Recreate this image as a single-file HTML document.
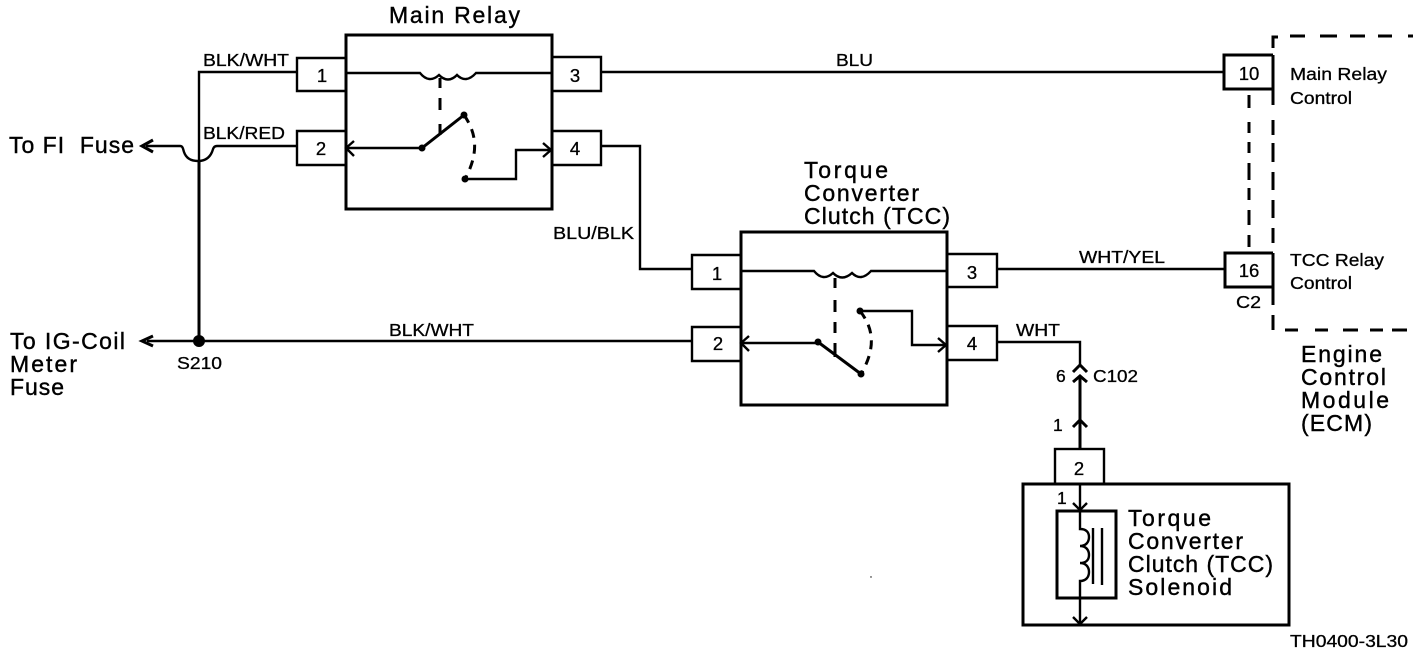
<!DOCTYPE html>
<html><head><meta charset="utf-8"><style>
html,body{margin:0;padding:0;background:#fff;width:1424px;height:654px;overflow:hidden}
svg{display:block}
text{font-family:"Liberation Sans",sans-serif;fill:#000;stroke:#000;stroke-width:.3}
.l{font-size:23px;stroke-width:.4}
.s{font-size:17.5px}
.n{font-size:18.5px;text-anchor:middle}
path,rect,line{fill:none;stroke:#000;stroke-width:2.4}
.th{stroke-width:3}
.d{stroke-width:3}
circle{fill:#000;stroke:none}
</style></head><body>
<svg width="1424" height="654" viewBox="0 0 1424 654" xmlns="http://www.w3.org/2000/svg">
<!-- Main Relay -->
<rect class="th" x="346" y="35" width="206" height="174"/>
<path d="M346 58H297V91H346M346 131H297V165H346M552 57H601V91H552M552 131H601V165H552"/>
<path d="M346 73H420Q429 84 439 75Q448 84 457 75Q466 84 476 73H552"/>
<path class="d" d="M440 78V88M440 98V110M440 124V135"/>
<path class="th" d="M422 148L464 115"/>
<path d="M346 148H422M465 179H516V150H550"/>
<path d="M354 141L346 148L354 156M543 143L551 150L543 157"/>
<path class="d" stroke-dasharray="9 7" d="M464 115C478 135 478 155 465 179"/>
<circle cx="422" cy="148" r="3.5"/><circle cx="464" cy="115" r="3.5"/><circle cx="465" cy="179" r="3.5"/>
<!-- TCC relay -->
<rect class="th" x="741" y="232" width="206" height="173"/>
<path d="M741 255H692V289H741M741 327H692V361H741M947 254H997V287H947M947 326H997V360H947"/>
<path d="M741 271H814Q823 282 833 273Q842 282 852 273Q861 282 871 271H947"/>
<path class="d" d="M835 278V288M835 300V312M835 322V333M835 343V357"/>
<path class="th" d="M818 342L861 374"/>
<path d="M741 343H818M860 311H912V345H945"/>
<path d="M749 336L741 343L749 351M938 338L946 345L938 352"/>
<path class="d" stroke-dasharray="9 7" d="M860 311C875 330 875 350 861 374"/>
<circle cx="818" cy="342" r="3.5"/><circle cx="860" cy="311" r="3.5"/><circle cx="861" cy="374" r="3.5"/>
<!-- Wires -->
<path d="M297 72H199V161"/>
<path class="th" d="M199 161V342"/>
<path d="M297 146H217C213 146 213 150 212 152C209 159 204 161 198 161C191 161 186 158 184 152C183 149 183 146 180 146H146"/>
<path d="M153 140L142 146L153 152" class="th"/>
<path d="M147 341H692"/>
<path class="th" d="M153 336L142 341L153 346"/>
<circle cx="199" cy="341" r="6"/>
<path d="M601 72H1224M997 269H1225M601 146H640V269H692M997 342H1080V364"/>
<path class="th" d="M1073 372L1080 365L1087 372M1073 382L1080 376L1087 382M1080 377V449M1073 427L1080 420L1087 427"/>
<!-- Solenoid -->
<rect class="th" x="1023" y="484" width="266" height="141"/>
<rect x="1055" y="449" width="49" height="35"/>
<rect class="th" x="1057" y="511" width="59" height="87"/>
<path d="M1080 484V529c6 0 9 3 9 8s-3 9-9 9c6 0 9 4 9 9s-3 8-9 8c6 0 9 4 9 9s-3 9-9 9V623"/>
<path d="M1073 503L1080 510L1087 503M1073 617L1080 624L1087 617"/>
<path d="M1093 528V584M1102 528V585"/>
<!-- ECM -->
<path class="th" d="M1273 48V37H1278M1273 55V105M1273 120V135M1273 143V162M1273 172V190M1273 200V218M1273 228V243M1273 253V305M1273 315V330"/>
<path class="th" d="M1290 36H1305M1320 36H1337M1350 36H1365M1378 36H1392M1408 36H1413"/>
<path class="th" d="M1285 330H1298M1315 330H1328M1343 330H1358M1370 330H1383M1392 330H1407"/>
<path class="th" d="M1273 55H1224V89H1273M1273 253H1225V287H1273"/>
<path class="d" d="M1249 95V108M1249 122V133M1249 142V153M1249 163V180M1249 188V200M1249 210V225M1249 235V247"/>
<!-- Pin numbers -->
<text class="n" x="322" y="82">1</text><text class="n" x="321" y="155">2</text>
<text class="n" x="575" y="82">3</text><text class="n" x="575" y="155">4</text>
<text class="n" x="717" y="280">1</text><text class="n" x="718" y="350">2</text>
<text class="n" x="972" y="279">3</text><text class="n" x="972" y="350">4</text>
<text class="n" x="1079" y="475">2</text>
<text class="n" x="1249" y="80">10</text><text class="n" x="1249" y="277">16</text>
<!-- Labels -->
<text class="l" x="389" y="23" textLength="131" lengthAdjust="spacing">Main Relay</text>
<text class="s" x="203" y="66" textLength="86" lengthAdjust="spacingAndGlyphs">BLK/WHT</text>
<text class="s" x="203" y="139" textLength="82" lengthAdjust="spacingAndGlyphs">BLK/RED</text>
<text class="s" x="836" y="66" textLength="37" lengthAdjust="spacingAndGlyphs">BLU</text>
<text class="s" x="553" y="239" textLength="81" lengthAdjust="spacingAndGlyphs">BLU/BLK</text>
<text class="s" x="1079" y="263" textLength="86" lengthAdjust="spacingAndGlyphs">WHT/YEL</text>
<text class="s" x="389" y="336" textLength="85" lengthAdjust="spacingAndGlyphs">BLK/WHT</text>
<text class="s" x="1016" y="336" textLength="44" lengthAdjust="spacingAndGlyphs">WHT</text>
<text class="l" x="9" y="153" textLength="125" lengthAdjust="spacing" xml:space="preserve">To FI  Fuse</text>
<text class="l" x="10" y="349" textLength="115" lengthAdjust="spacing">To IG-Coil</text>
<text class="l" x="10" y="372" textLength="67" lengthAdjust="spacing">Meter</text>
<text class="l" x="10" y="395" textLength="54" lengthAdjust="spacing">Fuse</text>
<text class="s" x="177" y="369" textLength="45" lengthAdjust="spacingAndGlyphs">S210</text>
<text class="l" x="804" y="178" textLength="84" lengthAdjust="spacing">Torque</text>
<text class="l" x="804" y="201" textLength="115" lengthAdjust="spacing">Converter</text>
<text class="l" x="804" y="224" textLength="146" lengthAdjust="spacing">Clutch (TCC)</text>
<text class="s" x="1290" y="80" textLength="97" lengthAdjust="spacingAndGlyphs">Main Relay</text>
<text class="s" x="1290" y="104" textLength="62" lengthAdjust="spacingAndGlyphs">Control</text>
<text class="s" x="1290" y="266" textLength="94" lengthAdjust="spacingAndGlyphs">TCC Relay</text>
<text class="s" x="1290" y="289" textLength="62" lengthAdjust="spacingAndGlyphs">Control</text>
<text class="s" x="1236" y="308" textLength="25" lengthAdjust="spacingAndGlyphs">C2</text>
<text class="l" x="1301" y="362" textLength="81" lengthAdjust="spacing">Engine</text>
<text class="l" x="1301" y="385" textLength="85" lengthAdjust="spacing">Control</text>
<text class="l" x="1301" y="408" textLength="88" lengthAdjust="spacing">Module</text>
<text class="l" x="1301" y="431" textLength="71" lengthAdjust="spacing">(ECM)</text>
<text class="s" x="1056" y="382">6</text>
<text class="s" x="1093" y="382" textLength="45" lengthAdjust="spacingAndGlyphs">C102</text>
<text class="s" x="1053" y="431">1</text>
<text class="s" x="1057" y="504">1</text>
<text class="l" x="1128" y="526" textLength="83" lengthAdjust="spacing">Torque</text>
<text class="l" x="1128" y="549" textLength="115" lengthAdjust="spacing">Converter</text>
<text class="l" x="1128" y="572" textLength="145" lengthAdjust="spacing">Clutch (TCC)</text>
<text class="l" x="1128" y="595" textLength="104" lengthAdjust="spacing">Solenoid</text>
<text class="s" x="1290" y="647" textLength="118" lengthAdjust="spacingAndGlyphs">TH0400-3L30</text>
<circle cx="871" cy="577" r=".7"/>
</svg>
</body></html>
